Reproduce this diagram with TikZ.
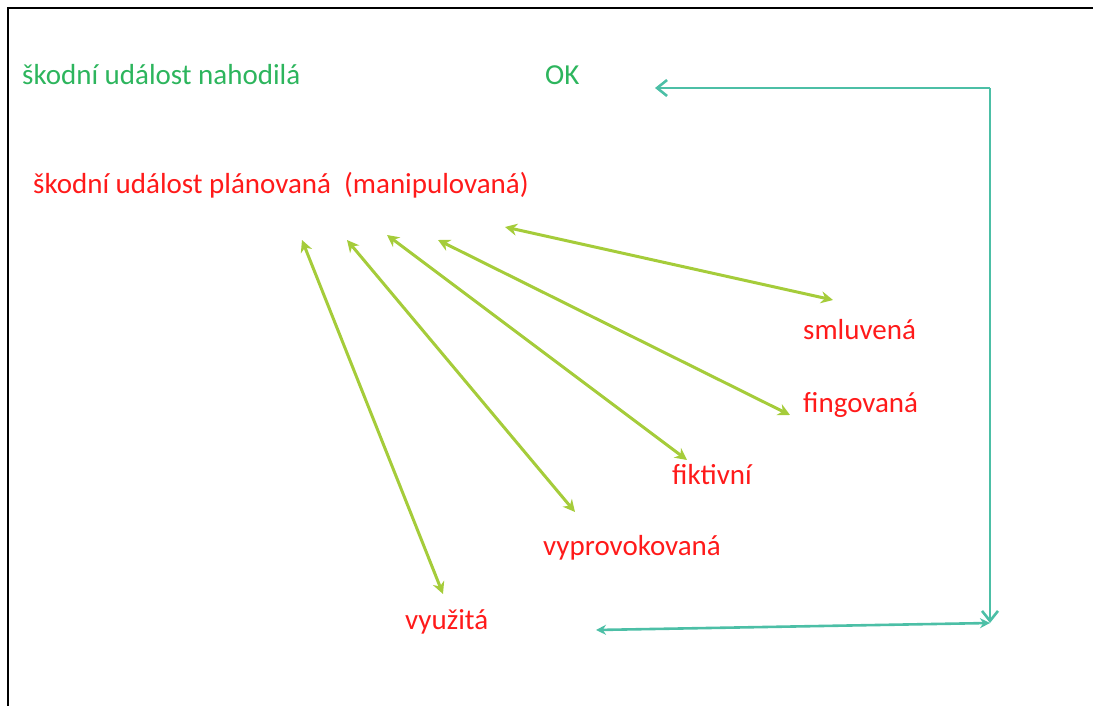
\documentclass[tikz,border=0pt]{standalone}
\usepackage{fontspec}
\setmainfont{Carlito}
\usetikzlibrary{arrows.meta}

\definecolor{okgreen}{HTML}{2DB55D}
\definecolor{txtred}{HTML}{FF1A1A}
\definecolor{lime}{HTML}{A5CC3A}
\definecolor{teal2}{HTML}{4CBFA6}

\tikzset{
    nahodila/.style={text=okgreen, font=\fontsize{29}{34}\selectfont, inner sep=0pt},
    planovana/.style={text=txtred, font=\fontsize{29}{34}\selectfont, inner sep=0pt},
    spojka/.style={lime, line width=3pt, {Stealth[length=12pt,width=12pt]}-{Stealth[length=12pt,width=12pt]}},
    navrat/.style={teal2, line width=2.6pt},
}

\begin{document}
\begin{tikzpicture}[x=1pt, y=-1pt]
        \useasboundingbox (0,0) rectangle (1093,706);
        \draw[line width=2pt] (8,706) -- (8,8) -- (1093,8);

        % texty
        \node[nahodila, anchor=west] (nahod) at (22,75) {škodní událost nahodilá};
        \node[nahodila, anchor=west] (ok) at (545,75) {OK};
        \node[planovana, anchor=west] (plan) at (33,185) {škodní událost plánovaná\ \ (manipulovaná)};
        \node[planovana, anchor=west] (smluv) at (803,330) {smluvená};
        \node[planovana, anchor=west] (fing) at (803,405) {fingovaná};
        \node[planovana, anchor=west] (fikt) at (672,475) {fiktivní};
        \node[planovana, anchor=west] (vyprov) at (543,548) {vyprovokovaná};
        \node[planovana, anchor=west] (vyuz) at (405,622) {využitá};

        % konce sipek
        \path (505,227) coordinate (a1) (833,300) coordinate (b1)
              (438,240) coordinate (a2) (790,415) coordinate (b2)
              (387,235) coordinate (a3) (687,460) coordinate (b3)
              (347,240) coordinate (a4) (575,512) coordinate (b4)
              (302,240) coordinate (a5) (443,594) coordinate (b5);
        \foreach \i in {1,...,5}
            \draw[spojka] (a\i) -- (b\i);

        \path (655,88) coordinate (okend) (990,88) coordinate (roh)
              (990,623) coordinate (dole) (596,630) coordinate (vyuzend);
        \draw[navrat, -{Straight Barb[length=10pt,width=16pt]}] (roh) -- (okend);
        \draw[navrat, -{Straight Barb[length=10pt,width=16pt]}] (roh) -- (dole);
        \draw[navrat, {Stealth[length=10pt,width=10pt]}-{Stealth[length=10pt,width=10pt]}] (vyuzend) -- (dole);
    \end{tikzpicture}
\end{document}
